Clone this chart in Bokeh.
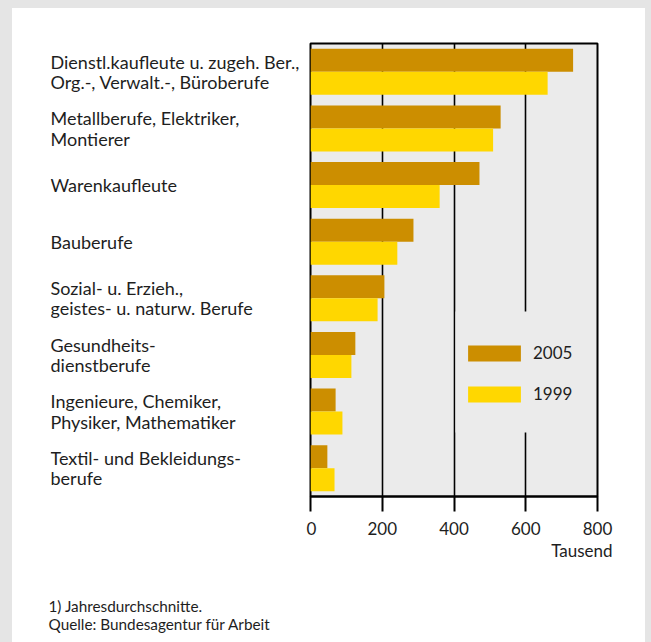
from bokeh.plotting import figure
from bokeh.layouts import row, column
from bokeh.models import (ColumnDataSource, FactorRange, Range1d, Label, Title,
                          Legend, LegendItem, BoxAnnotation, FixedTicker)
from bokeh.transform import dodge
from bokeh.core.properties import value
from bokeh.embed import file_html
from bokeh.resources import INLINE

categories = [
    "Dienstl.kaufleute u. zugeh. Ber.,\nOrg.-, Verwalt.-, Büroberufe",
    "Metallberufe, Elektriker,\nMontierer",
    "Warenkaufleute",
    "Bauberufe",
    "Sozial- u. Erzieh.,\ngeistes- u. naturw. Berufe",
    "Gesundheits-\ndienstberufe",
    "Ingenieure, Chemiker,\nPhysiker, Mathematiker",
    "Textil- und Bekleidungs-\nberufe",
]
values_2005 = [732, 530, 471, 287, 206, 125, 70, 47]
values_1999 = [661, 509, 360, 242, 187, 114, 89, 67]
x_ticks = [0, 200, 400, 600, 800]
series_names = ["2005", "1999"]
x_unit = "Tausend"
footnotes = ["1) Jahresdurchschnitte.", "Quelle: Bundesagentur für Arbeit"]

FONT = "Lato"
TEXT = "#1e1e1e"
C2005 = "#CC8E00"
C1999 = "#FFD700"
PLOT_BG = "#EBEBEB"
OUTER = "#E5E5E5"
WHITE_BOX = {"background-color": "white"}

src = ColumnDataSource(dict(cat=categories, v2005=values_2005, v1999=values_1999,
                            zero=[0] * len(categories)))
yr = FactorRange(factors=list(reversed(categories)))

TOP, BOTTOM, H = 35, 70, 558

# ---- main chart ----
p = figure(width=339, height=H, output_backend="svg", toolbar_location=None,
           x_range=Range1d(0, 800), y_range=yr, styles=WHITE_BOX,
           min_border_left=4, min_border_right=48, min_border_top=TOP, min_border_bottom=BOTTOM,
           background_fill_color=PLOT_BG, border_fill_color="white",
           outline_line_color="black", outline_line_width=2)

r05 = p.hbar(y=dodge("cat", 0.203, range=yr), left=0, right="v2005", height=0.406,
             source=src, fill_color=C2005, line_color=None)
r99 = p.hbar(y=dodge("cat", -0.203, range=yr), left=0, right="v1999", height=0.406,
             source=src, fill_color=C1999, line_color=None)

p.yaxis.visible = False
p.ygrid.grid_line_color = None
p.xgrid.ticker = FixedTicker(ticks=x_ticks)
p.xgrid.grid_line_color = "black"
p.xgrid.grid_line_width = 1.6
p.xgrid.level = "image"

ax = p.xaxis[0]
ax.ticker = FixedTicker(ticks=x_ticks)
ax.axis_line_color = "black"
ax.axis_line_width = 2
ax.major_tick_in = 0
ax.major_tick_out = 15
ax.major_tick_line_width = 2
ax.minor_tick_line_color = None
ax.major_label_text_font = FONT
ax.major_label_text_font_size = "17px"
ax.major_label_text_color = TEXT
ax.major_label_standoff = 10

gap = BoxAnnotation(left=145, right=280, bottom=64, top=185,
                    left_units="screen", right_units="screen",
                    bottom_units="screen", top_units="screen",
                    fill_color=PLOT_BG, fill_alpha=1, line_color=None)
p.add_layout(gap)

legend = Legend(items=[LegendItem(label=series_names[0], renderers=[r05]),
                       LegendItem(label=series_names[1], renderers=[r99])],
                location=(151, 92), orientation="vertical", glyph_width=66, glyph_height=20,
                label_height=20, label_standoff=6, spacing=20, padding=0, margin=0,
                border_line_color=None, background_fill_alpha=0,
                label_text_font=FONT, label_text_font_size="17px", label_text_color=TEXT)
p.add_layout(legend)

p.add_layout(Title(text=x_unit, align="right", offset=-15, standoff=0,
                   text_font=FONT, text_font_size="17px", text_font_style="normal",
                   text_color=TEXT), "below")

# ---- category labels ----
lab = figure(width=294, height=H, output_backend="svg", toolbar_location=None,
             x_range=Range1d(0, 1), y_range=yr, styles=WHITE_BOX,
             min_border_left=38, min_border_right=0, min_border_top=TOP, min_border_bottom=BOTTOM,
             background_fill_color="white", border_fill_color="white", outline_line_color=None)
lab.axis.visible = False
lab.grid.visible = False
lab.text(x="zero", y="cat", text="cat", source=src, text_align="left", text_baseline="middle",
         text_font=value(FONT), text_font_size="18px", text_color=TEXT, text_line_height=0.92)

# ---- footnotes ----
foot = figure(width=633, height=76, output_backend="svg", toolbar_location=None,
              x_range=Range1d(0, 1), y_range=Range1d(0, 1), styles=WHITE_BOX,
              min_border_left=0, min_border_right=0, min_border_top=0, min_border_bottom=0,
              background_fill_color="white", border_fill_color="white", outline_line_color=None)
foot.axis.visible = False
foot.grid.visible = False
for i, t in enumerate(footnotes):
    foot.add_layout(Label(x=36, y=37 - 18 * i, x_units="screen", y_units="screen",
                          text=t, text_align="left", text_baseline="middle",
                          text_font=FONT, text_font_size="15.3px", text_color=TEXT))

page = column(row(lab, p), foot,
              styles={"background-color": OUTER, "padding": "8px 6px 0px 12px"})

open("out.html", "w").write(file_html(page, INLINE))
